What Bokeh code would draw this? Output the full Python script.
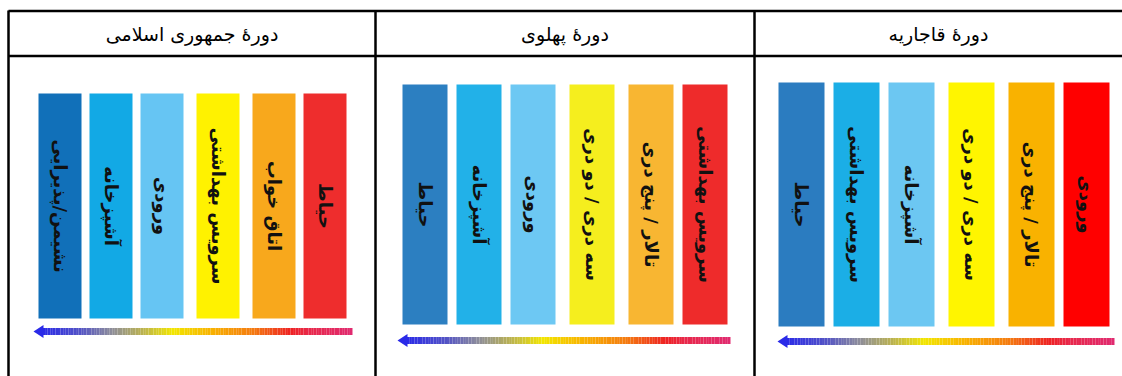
import math
from bokeh.plotting import figure
from bokeh.models import Range1d, ColumnDataSource
from bokeh.core.properties import value
from bokeh.embed import file_html
from bokeh.resources import INLINE

# ---------------- data ----------------
headers = ["دورهٔ جمهوری اسلامی", "دورهٔ پهلوی", "دورهٔ قاجاریه"]

labels_islamic = ["نشیمن/پذیرایی", "آشپزخانه", "ورودی", "سرویس بهداشتی", "اتاق خواب", "حیاط"]
colors_islamic = ["#1170B9", "#12A9E5", "#66C5F3", "#FFF200", "#F8A81C", "#EE2D2D"]

labels_pahlavi = ["حیاط", "آشپزخانه", "ورودی", "سه دری / دو دری", "تالار / پنج دری", "سرویس بهداشتی"]
colors_pahlavi = ["#2C7FC1", "#22B1E8", "#6DC8F3", "#F5EE1E", "#F8B632", "#EE2B2B"]

labels_qajar = ["حیاط", "سرویس بهداشتی", "آشپزخانه", "سه دری / دو دری", "تالار / پنج دری", "ورودی"]
colors_qajar = ["#2B7CC0", "#1BAEE6", "#6CC7F2", "#FFF500", "#F9B200", "#FF0000"]

# gradient stops of the arrow (style)
grad_stops = [(0.00, "#2A2AE8"), (0.12, "#5252C6"), (0.22, "#8C8C9C"), (0.32, "#B9B152"),
              (0.42, "#F2E600"), (0.55, "#F8B000"), (0.68, "#F47A10"), (0.80, "#EE2222"),
              (0.86, "#E8284A"), (1.00, "#E02A70")]

# ---------------- layout ----------------
panels = [
    dict(labels=labels_islamic, colors=colors_islamic, left=38, width=43, step=51, top=93, bottom=318,
         ay=331, ax0=33, ax1=352, cx=191.5),
    dict(labels=labels_pahlavi, colors=colors_pahlavi, left=402, width=45, step=54, top=84, bottom=324,
         ay=340, ax0=397, ax1=730, cx=564.5),
    dict(labels=labels_qajar, colors=colors_qajar, left=778, width=46, step=55, top=82, bottom=326,
         ay=341, ax0=777, ax1=1114, cx=938),
]
extra_gap = [0, 0, 0, 5, 10, 10]

W, H = 1122, 376
p = figure(width=W, height=H, x_range=Range1d(0, W), y_range=Range1d(H, 0),
           output_backend="svg", toolbar_location=None, min_border=0)
p.axis.visible = False
p.grid.visible = False
p.outline_line_color = None
p.background_fill_color = "white"


def hex2rgb(h):
    return tuple(int(h[i:i + 2], 16) for i in (1, 3, 5))


def grad_color(t):
    for (t0, c0), (t1, c1) in zip(grad_stops[:-1], grad_stops[1:]):
        if t0 <= t <= t1:
            f = (t - t0) / (t1 - t0) if t1 > t0 else 0
            a, b = hex2rgb(c0), hex2rgb(c1)
            return "#%02x%02x%02x" % tuple(int(round(a[k] + (b[k] - a[k]) * f)) for k in range(3))
    return grad_stops[-1][1]


for pn in panels:
    n = len(pn["labels"])
    lefts = [pn["left"] + i * pn["step"] + extra_gap[i] for i in range(n)]
    rights = [l + pn["width"] for l in lefts]
    src = ColumnDataSource(dict(left=lefts, right=rights, top=[pn["top"]] * n, bottom=[pn["bottom"]] * n,
                                color=pn["colors"], label=pn["labels"],
                                xc=[(l + r) / 2 for l, r in zip(lefts, rights)],
                                yc=[(pn["top"] + pn["bottom"]) / 2] * n))
    p.quad(left="left", right="right", top="top", bottom="bottom", fill_color="color",
           line_color=None, source=src)
    p.text(x="xc", y="yc", text="label", angle=-math.pi / 2, text_align="center",
           text_baseline="middle", text_font=value("DejaVu Sans"), text_font_style="bold",
           text_font_size="18px", text_color="#111111", source=src)

    # gradient arrow
    head = 9
    x0 = pn["ax0"] + head
    x1 = pn["ax1"]
    N = 120
    segs = [x0 + (x1 - x0) * k / N for k in range(N + 1)]
    cols = [grad_color((k + 0.5) / N) for k in range(N)]
    p.quad(left=segs[:-1], right=segs[1:], top=[pn["ay"] - 3.5] * N, bottom=[pn["ay"] + 3.5] * N,
           fill_color=cols, line_color=None)
    p.patch([pn["ax0"], x0 + 1, x0 + 1], [pn["ay"], pn["ay"] - 6.5, pn["ay"] + 6.5],
            fill_color=grad_stops[0][1], line_color=None)

# table lines
p.segment(x0=[8, 8], y0=[10.5, 55.5], x1=[W, W], y1=[10.5, 55.5], line_color="black", line_width=2.5)
p.segment(x0=[8, 375, 754], y0=[10, 10, 10], x1=[8, 375, 754], y1=[H, H, H],
          line_color="black", line_width=2.5)

# headers
p.text(x=[pn["cx"] for pn in panels], y=[33] * 3, text=headers, text_align="center",
       text_baseline="middle", text_font=value("DejaVu Sans"), text_font_size="19px",
       text_color="black")

open("out.html", "w").write(file_html(p, INLINE))
